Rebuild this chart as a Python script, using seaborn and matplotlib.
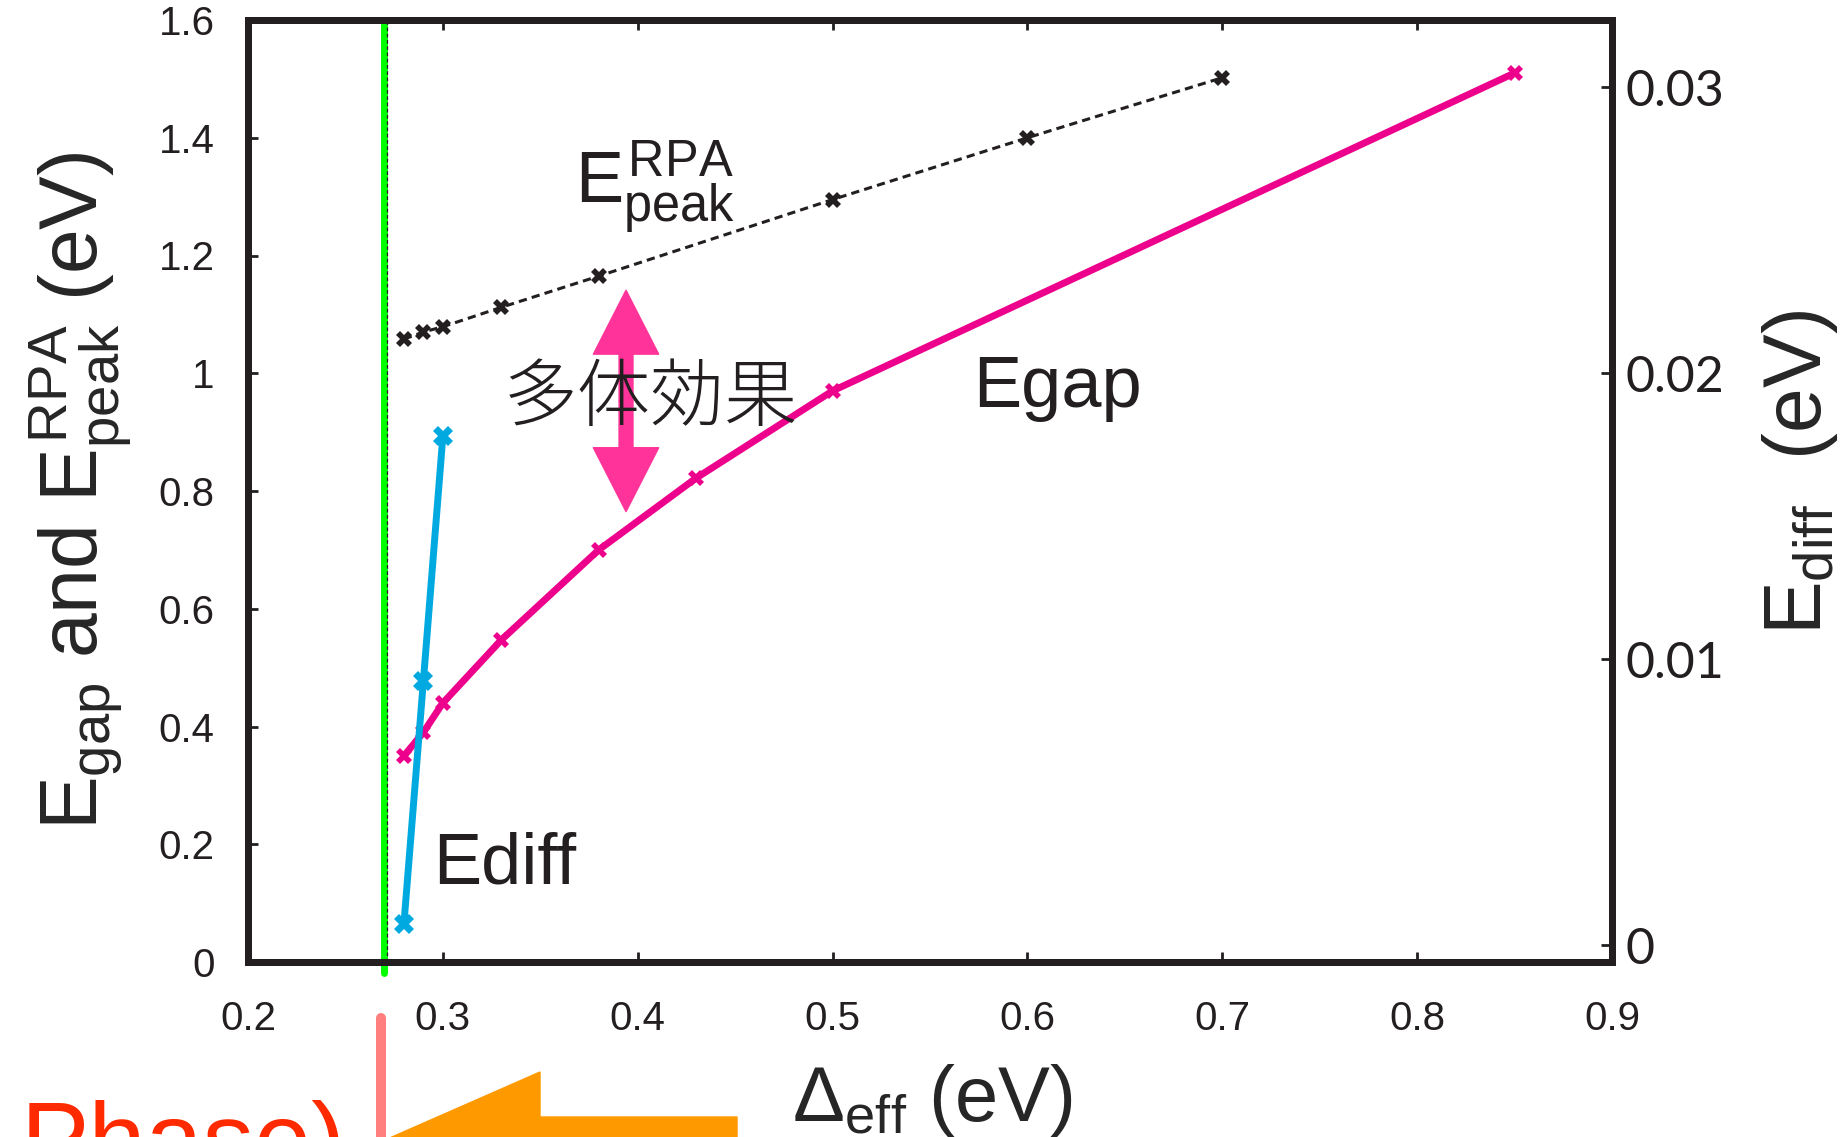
import matplotlib
matplotlib.use('Agg')
import matplotlib.pyplot as plt
import matplotlib.patches as mpatches
import seaborn as sns

# Values
delta_gap = [0.28, 0.29, 0.30, 0.33, 0.38, 0.43, 0.50, 0.85]
e_gap = [0.35, 0.39, 0.44, 0.547, 0.70, 0.822, 0.97, 1.51]

delta_rpa = [0.28, 0.29, 0.30, 0.33, 0.38, 0.50, 0.60, 0.70]
e_rpa = [1.058, 1.07, 1.079, 1.112, 1.165, 1.295, 1.40, 1.502]

delta_diff = [0.28, 0.29, 0.30]
e_diff = [0.00074, 0.00924, 0.0178]

delta_c = 0.27

x_ticks = [0.2, 0.3, 0.4, 0.5, 0.6, 0.7, 0.8, 0.9]
x_ticklabels = ['0.2', '0.3', '0.4', '0.5', '0.6', '0.7', '0.8', '0.9']
left_ticks = [0, 0.2, 0.4, 0.6, 0.8, 1.0, 1.2, 1.4, 1.6]
left_ticklabels = ['0', '0.2', '0.4', '0.6', '0.8', '1', '1.2', '1.4', '1.6']
right_ticks = [0, 0.01, 0.02, 0.03]
right_ticklabels = ['0', '0.01', '0.02', '0.03']

ink = '#231f20'
magenta = '#ec008c'
cyan = '#00a9e0'
green = '#00ff00'
pink = '#ff3399'

sns.set_style('white')
plt.rcParams['font.family'] = ['Liberation Sans', 'Noto Sans CJK JP', 'DejaVu Sans']
plt.rcParams['mathtext.fontset'] = 'custom'
plt.rcParams['mathtext.rm'] = 'Liberation Sans'
plt.rcParams['mathtext.it'] = 'Liberation Sans'
plt.rcParams['mathtext.bf'] = 'Liberation Sans:bold'
plt.rcParams['text.color'] = ink

W, H = 1849, 1137
fig = plt.figure(figsize=(W / 100, H / 100), dpi=100)
ax = fig.add_axes([248 / W, 1 - 962 / H, (1612 - 248) / W, (962 - 20) / H])
ax2 = ax.twinx()

# critical Delta: green line and thin dashed line beside it
ax.axvline(delta_c, ymin=-0.012, ymax=1, color=green, lw=5, clip_on=False, zorder=1)
ax.axvline(delta_c + 0.0013, color=ink, lw=0.9, ls=(0, (3, 2)), zorder=1)

sns.lineplot(x=delta_rpa, y=e_rpa, ax=ax, color=ink, lw=2.2, linestyle=(0, (2.7, 1.7)),
             marker='X', markersize=12, markeredgewidth=0, zorder=3)
sns.lineplot(x=delta_gap, y=e_gap, ax=ax, color=magenta, lw=5,
             marker='X', markersize=12, markeredgewidth=0, zorder=3)
sns.lineplot(x=delta_diff, y=e_diff, ax=ax2, color=cyan, lw=5,
             marker='X', markersize=15, markeredgewidth=0, zorder=3)

ax.set_xlim(0.2, 0.9)
ax.set_ylim(0, 1.6)
ax2.set_ylim(-0.00058, 0.03235)

ax.set_xticks(x_ticks, x_ticklabels)
ax.set_yticks(left_ticks, left_ticklabels)
ax2.set_yticks(right_ticks, right_ticklabels)

for a in (ax, ax2):
    for s in a.spines.values():
        s.set_linewidth(5)
        s.set_color(ink)
ax.tick_params(axis='x', direction='in', top=True, bottom=True, length=7, width=2,
               color=ink, labelsize=29, pad=27, labelcolor=ink)
ax.tick_params(axis='y', direction='in', left=True, right=False, length=7, width=2,
               color=ink, labelsize=29, pad=24, labelcolor=ink)
ax2.tick_params(axis='y', direction='in', right=True, length=8, width=2,
                color=ink, labelsize=36, pad=10, labelcolor=ink)
for lab in ax2.get_yticklabels():
    lab.set_fontfamily('Lato')

# axis labels
ax.set_ylabel('$E_{gap}$ and $E^{RPA}_{peak}$ (eV)', fontsize=58, ha='center', va='center')
ax.yaxis.set_label_coords(-0.123, 0.5)
ax2.set_ylabel('$E_{diff}$  (eV)', fontsize=58, rotation=90, ha='center', va='center')
ax2.yaxis.set_label_coords(1.138, 0.52)
ax.set_xlabel(r'$\Delta_{eff}$ (eV)', fontsize=56, ha='center', va='center')
ax.xaxis.set_label_coords(0.502, -0.147)

# in-plot labels
ax.text(0.368, 1.287, '$E^{RPA}_{peak}$', fontsize=52, va='baseline')
ax.text(0.572, 0.942, 'Egap', fontsize=52, va='baseline')
ax.text(0.295, 0.1325, 'Ediff', fontsize=52, va='baseline')
ax.text(0.331, 0.955, '多体効果', fontsize=53, va='center', family='Noto Sans CJK JP',
        weight='light', zorder=5)

# many-body double arrow
mid = (1.141 + 0.765) / 2
for tip in (1.141, 0.765):
    ax.add_patch(mpatches.FancyArrowPatch(
        (0.394, mid), (0.394, tip),
        arrowstyle=mpatches.ArrowStyle.Simple(head_length=46, head_width=47, tail_width=10),
        mutation_scale=1, color=pink, shrinkA=0, shrinkB=0, zorder=4))

# slide pieces cut by the bottom edge
fig.add_artist(plt.Line2D([381.5 / W] * 2, [1 - 1018 / H, 0], color='#ff7f7f', lw=7.2))
arrow_px = [(335, 1162), (540, 1072), (540, 1117), (737, 1117), (737, 1207),
            (540, 1207), (540, 1252)]
fig.add_artist(mpatches.Polygon([(x / W, 1 - y / H) for x, y in arrow_px],
                                closed=True, color='#ff9900', transform=fig.transFigure))
fig.text(21 / W, 1 - 1175 / H, 'Phase)', fontsize=74, color='#ff2a00', va='baseline')

fig.savefig('out.png', dpi=100)
